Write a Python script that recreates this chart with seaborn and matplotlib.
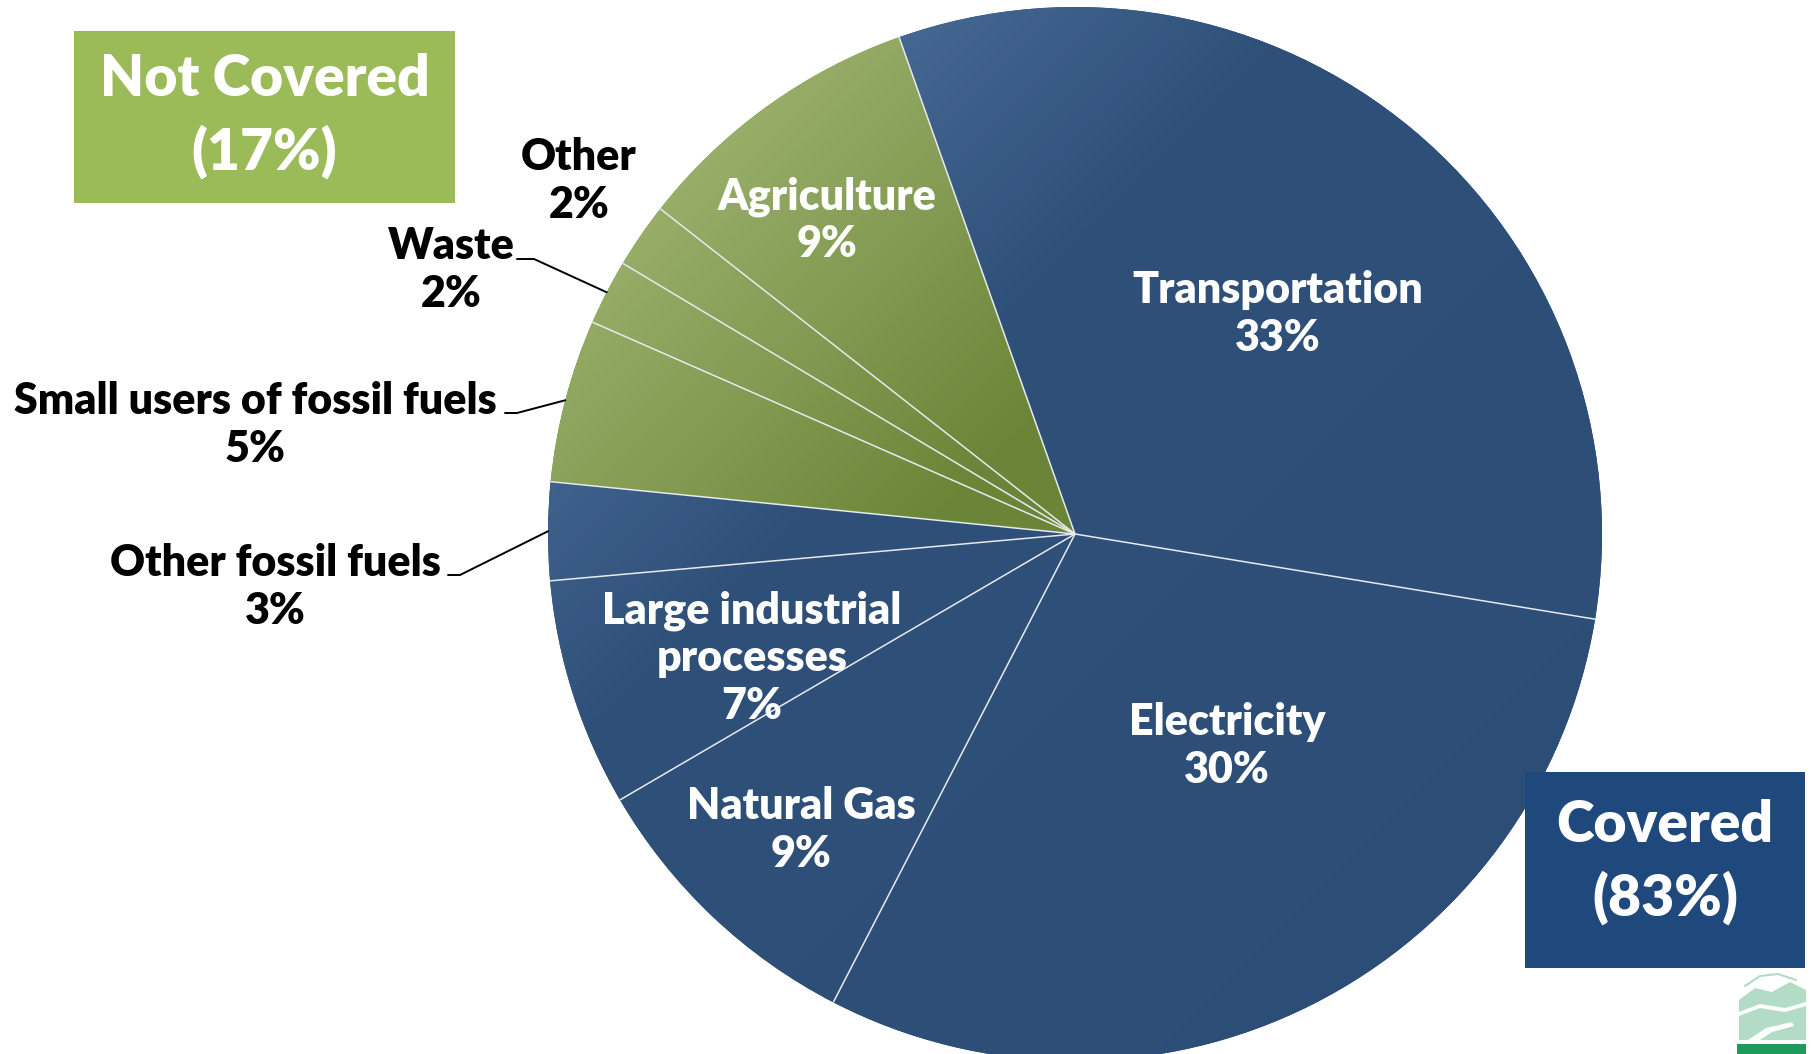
import matplotlib
matplotlib.use("Agg")
import matplotlib.pyplot as plt
import numpy as np
import seaborn as sns
from matplotlib.colors import LinearSegmentedColormap
from matplotlib.patches import Rectangle, Polygon

# data
sectors = ["Transportation", "Electricity", "Natural Gas", "Large industrial\nprocesses",
           "Other fossil fuels", "Small users of fossil fuels", "Waste", "Other", "Agriculture"]
shares = [33, 30, 9, 7, 3, 5, 2, 2, 9]
covered = [True, True, True, True, True, False, False, False, False]
group_names = ["Not Covered", "Covered"]
group_shares = [17, 83]

sns.set_theme(style="white")
plt.rcParams["font.family"] = ["Lato", "DejaVu Sans"]

W, H = 1812, 1054
fig = plt.figure(figsize=(W / 100, H / 100), dpi=100)
ax = fig.add_axes([0, 0, 1, 1])

def py(y):
    # pixel row -> data y
    return H - y

cx, cy, R = 1075, py(534), 527
blue_base, green_base = "#2E5079", "#6F8A3E"
wedges, _ = ax.pie(shares, startangle=109.5, counterclock=False, center=(cx, cy), radius=R,
                   colors=[blue_base if c else green_base for c in covered],
                   wedgeprops=dict(linewidth=0))

# diagonal gradient fill, lighter toward the top-left of the pie
blue_cmap = LinearSegmentedColormap.from_list(
    "b", [(0, "#5D80AA"), (0.12, "#4C6F9B"), (0.36, "#2E5079"), (1, "#2C4D76")])
green_cmap = LinearSegmentedColormap.from_list(
    "g", [(0, "#AABF80"), (0.13, "#9AB06C"), (0.42, "#6C8639"), (1, "#66802F")])
xs = np.linspace(cx - R, cx + R, 500)
ys = np.linspace(cy + R, cy - R, 500)
X, Y = np.meshgrid(xs, ys)
grad = ((X - (cx - R)) + ((cy + R) - Y)) / (4 * R)
for w, c in zip(wedges, covered):
    im = ax.imshow(grad, cmap=blue_cmap if c else green_cmap, vmin=0, vmax=1,
                   extent=(cx - R, cx + R, cy - R, cy + R), origin="upper",
                   interpolation="bilinear", zorder=2)
    im.set_clip_path(w)

# white separators between slices
for w in wedges:
    a = np.deg2rad(w.theta1)
    ax.plot([cx, cx + R * np.cos(a)], [cy, cy + R * np.sin(a)], color="#E6EAEE", lw=1.1,
            zorder=3, solid_capstyle="butt")

# slice labels (pixel positions of label block centres)
label_xy = [(1278, 314), (1227, 746), (801, 830), (752, 658), (275, 587),
            (255, 425), (451, 270), (579, 181), (827, 220)]
inside = [True, True, True, True, False, False, False, False, True]
for name, val, (x, y), ins in zip(sectors, shares, label_xy, inside):
    ax.text(x, py(y), f"{name}\n{val}%", ha="center", va="center", fontsize=31,
            fontweight="heavy", color="white" if ins else "black", linespacing=1.22, zorder=5)

# leader lines: text end -> short horizontal -> slice edge
leaders = {6: (517, 534, 259), 5: (505, 517, 413), 4: (448, 460, 575)}
for i, (x0, x1, y) in leaders.items():
    w = wedges[i]
    a = np.deg2rad((w.theta1 + w.theta2) / 2)
    ex, ey = cx + R * np.cos(a), cy + R * np.sin(a)
    ax.plot([x0, x1, ex], [py(y), py(y), ey], color="black", lw=1.4, zorder=4)

# group boxes
boxes = [((74, 31, 455, 203), "#9BBB59", 116), ((1525, 772, 1805, 968), "#1F497D", 862)]
for (name, val), ((x0, y0, x1, y1), col, ty) in zip(zip(group_names, group_shares), boxes):
    ax.add_patch(Rectangle((x0, py(y1)), x1 - x0, y1 - y0, facecolor=col, edgecolor="none", zorder=4))
    ax.text((x0 + x1) / 2, py(ty), f"{name}\n({val}%)", ha="center", va="center",
            fontsize=41, fontweight="heavy", color="white", linespacing=1.45, zorder=5)

# rough logo in the corner
mint = "#B2DCC6"
ax.add_patch(Polygon([(1739, py(1000)), (1755, py(988)), (1772, py(992)), (1790, py(982)),
                      (1806, py(990)), (1806, py(1040)), (1739, py(1040))],
                     facecolor=mint, edgecolor="none"))
ax.add_patch(Polygon([(1739, py(1012)), (1760, py(1004)), (1785, py(1008)), (1806, py(1002)),
                      (1806, py(1006)), (1785, py(1012)), (1760, py(1008)), (1739, py(1016))],
                     facecolor="white", edgecolor="none"))
ax.add_patch(Polygon([(1748, py(1040)), (1766, py(1028)), (1792, py(1022)), (1794, py(1026)),
                      (1772, py(1032)), (1760, py(1040))], facecolor="white", edgecolor="none"))
ax.plot([1745, 1760, 1778, 1796], [py(986), py(976), py(974), py(980)], color=mint, lw=1.5)
ax.add_patch(Rectangle((1737, 0), 69, py(1044), facecolor="#1E9A5B", edgecolor="none"))

ax.set_xlim(0, W)
ax.set_ylim(0, H)
ax.set_aspect("equal")
ax.axis("off")
fig.savefig("out.png", dpi=100, facecolor="white")
